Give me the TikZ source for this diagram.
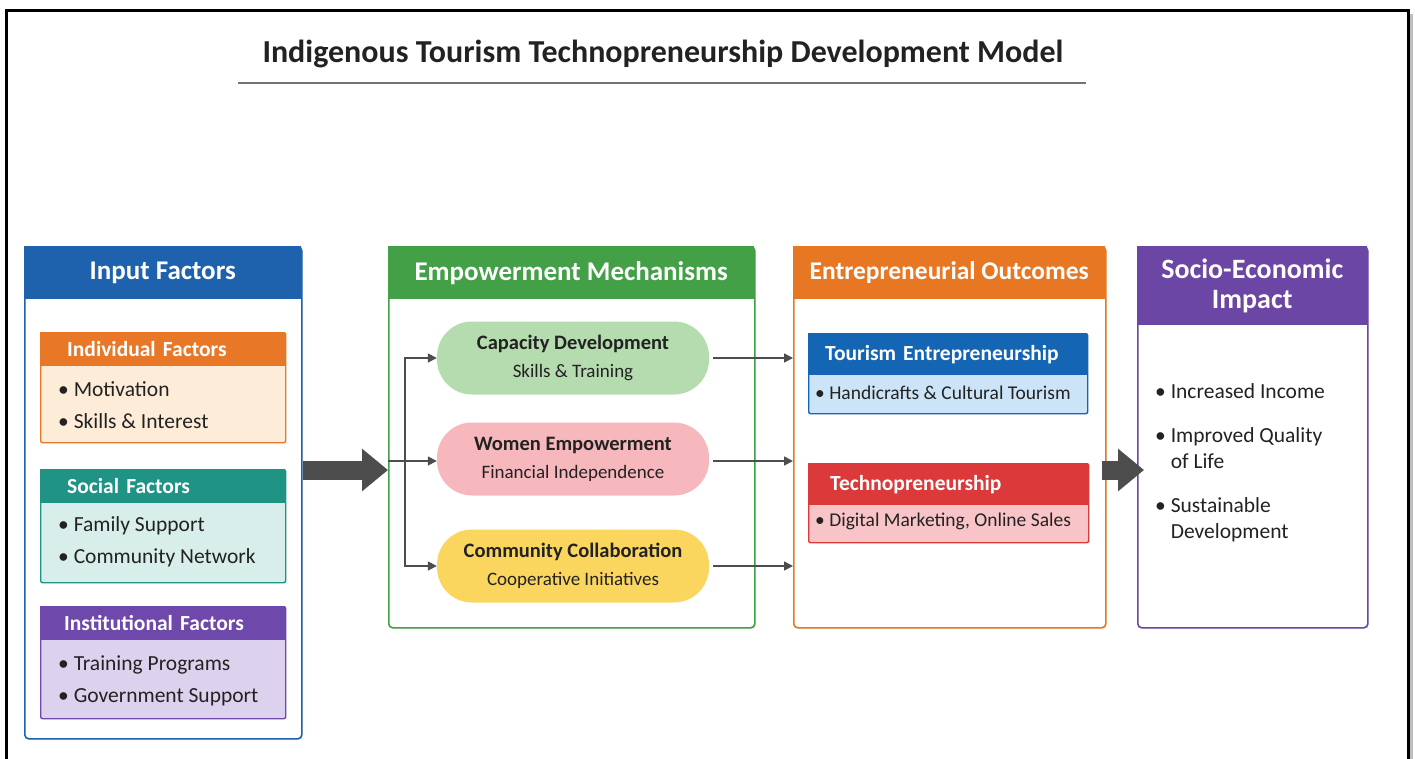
\documentclass[tikz,border=0pt]{standalone}
\usepackage{fontspec}
\setmainfont{Carlito}
\usepackage{tikz}
\usetikzlibrary{arrows.meta, positioning, calc, shadows}

\definecolor{textdark}{RGB}{34, 34, 34}
\definecolor{arrowdark}{RGB}{77, 77, 77}
\definecolor{inblue}{RGB}{30, 98, 174}
\definecolor{embgreen}{RGB}{67, 160, 71}
\definecolor{outorange}{RGB}{232, 119, 36}
\definecolor{socpurple}{RGB}{107, 70, 164}
\definecolor{indorange}{RGB}{232, 120, 40}
\definecolor{indbody}{RGB}{253, 236, 216}
\definecolor{socteal}{RGB}{31, 148, 133}
\definecolor{tealbody}{RGB}{216, 238, 234}
\definecolor{instpurple}{RGB}{110, 72, 170}
\definecolor{instbody}{RGB}{220, 210, 238}
\definecolor{pillgreen}{RGB}{181, 220, 174}
\definecolor{pillpink}{RGB}{246, 184, 188}
\definecolor{pillyellow}{RGB}{250, 214, 95}
\definecolor{tourblue}{RGB}{21, 101, 181}
\definecolor{tourbody}{RGB}{204, 228, 247}
\definecolor{techred}{RGB}{220, 58, 58}
\definecolor{techbody}{RGB}{248, 196, 199}

\tikzset{
  panel/.style={draw=#1, line width=1.6pt, fill=white, rounded corners=4pt, anchor=north west,
    inner sep=0pt, drop shadow={opacity=0.12, shadow xshift=1pt, shadow yshift=-1.5pt}},
  panelhead/.style={fill=#1, anchor=north west, inner sep=0pt, text=white, align=center,
    font=\bfseries\fontsize{27}{30}\selectfont},
  factorbox/.style={draw=#1, line width=1.4pt, rounded corners=2pt, anchor=north west, inner sep=0pt},
  factorhead/.style={fill=#1, anchor=north west, inner xsep=27pt, inner ysep=0pt, align=left,
    text=white, font=\bfseries\fontsize{21.5}{24}\selectfont},
  item/.style={anchor=west, inner sep=0pt, align=left, text=textdark, font=\fontsize{21.5}{32}\selectfont},
  pill/.style={fill=#1, rounded corners=35pt, minimum width=272pt, minimum height=73pt,
    inner sep=0pt, align=center, text=textdark, font=\fontsize{19}{28}\selectfont},
  flow/.style={draw=arrowdark, line width=1.6pt, -{Triangle[length=9pt, width=9pt]}},
  bigarrow/.style={draw=arrowdark, line width=19pt, -{Triangle[length=26pt, width=41pt]}}
}

\begin{document}
\begin{tikzpicture}[x=1pt, y=-1pt]
  \useasboundingbox (0,0) rectangle (1415,758);

  % frame
  \draw[black!25, line width=4pt] (1411,14) -- (1411,770);
  \draw[line width=3pt] (6,770) -- (6,10) -- (1408,10) -- (1408,770);

  % title
  \node[font=\bfseries\fontsize{32}{36}\selectfont, text=textdark] (title) at (663,54)
    {Indigenous Tourism Technopreneurship Development Model};
  \draw[black!55, line width=1.5pt] (238,83) -- (1086,83);

  % input factors
  \node[panel=inblue, minimum width=277pt, minimum height=492pt] (input) at (24,246) {};
  \node[panelhead=inblue, minimum width=277pt, minimum height=53pt] (inputhead) at (input.north west) {Input Factors};

  \node[factorbox=indorange, fill=indbody, minimum width=245pt, minimum height=110pt] (indiv) at (40,332) {};
  \node[factorhead=indorange, text width=191pt, minimum height=34pt] (indivhead) at (indiv.north west) {Individual Factors};
  \node[item] (indivitems) at (58,405) {• Motivation\\• Skills \& Interest};

  \node[factorbox=socteal, fill=tealbody, minimum width=245pt, minimum height=113pt] (social) at (40,469) {};
  \node[factorhead=socteal, text width=191pt, minimum height=34pt] (socialhead) at (social.north west) {Social Factors};
  \node[item] (socialitems) at (58,542) {• Family Support\\• Community Network};

  \node[factorbox=instpurple, fill=instbody, minimum width=245pt, minimum height=112pt] (inst) at (40,606) {};
  \node[factorhead=instpurple, inner xsep=24pt, text width=197pt, minimum height=34pt] (insthead) at (inst.north west) {Institutional Factors};
  \node[item] (institems) at (58,681) {• Training Programs\\• Government Support};

  % empowerment mechanisms
  \node[panel=embgreen, minimum width=366pt, minimum height=381pt] (empower) at (388,246) {};
  \node[panelhead=embgreen, minimum width=366pt, minimum height=53pt] (empowerhead) at (empower.north west) {Empowerment Mechanisms};

  \node[pill=pillgreen] (capacity) at (573,358) {{\bfseries\fontsize{20.5}{22}\selectfont Capacity Development}\\Skills \& Training};
  \node[pill=pillpink] (women) at (573,459) {{\bfseries\fontsize{20.5}{22}\selectfont Women Empowerment}\\Financial Independence};
  \node[pill=pillyellow] (community) at (573,566) {{\bfseries\fontsize{20.5}{22}\selectfont Community Collaboration}\\Cooperative Initiatives};

  % entrepreneurial outcomes
  \node[panel=outorange, minimum width=312pt, minimum height=381pt] (outcomes) at (793,246) {};
  \node[panelhead=outorange, font=\bfseries\fontsize{25.5}{30}\selectfont, minimum width=312pt, minimum height=53pt] (outcomeshead) at (outcomes.north west) {Entrepreneurial Outcomes};

  \node[factorbox=tourblue, fill=tourbody, minimum width=279pt, minimum height=80pt] (tourism) at (808,333) {};
  \node[factorhead=tourblue, inner xsep=17pt, text width=245pt, minimum height=42pt] (tourismhead) at (tourism.north west) {Tourism Entrepreneurship};
  \node[item, font=\fontsize{19.5}{22}\selectfont] (tourismitem) at (815,393) {• Handicrafts \& Cultural Tourism};

  \node[factorbox=techred, fill=techbody, minimum width=280pt, minimum height=79pt] (techno) at (808,463) {};
  \node[factorhead=techred, inner xsep=22pt, text width=236pt, minimum height=42pt] (technohead) at (techno.north west) {Technopreneurship};
  \node[item, font=\fontsize{19.5}{22}\selectfont] (technoitem) at (815,521) {• Digital Marketing, Online Sales};

  % socio-economic impact
  \node[panel=socpurple, minimum width=230pt, minimum height=381pt] (impact) at (1137,246) {};
  \node[panelhead=socpurple, font=\bfseries\fontsize{28}{30}\selectfont, minimum width=230pt, minimum height=79pt] (impacthead) at (impact.north west) {Socio-Economic\\Impact};
  \node[item, font=\fontsize{21.5}{26}\selectfont] (impactitems) at (1155,463)
    {• Increased Income\\[18pt]• Improved Quality\\\phantom{•~}of Life\\[18pt]• Sustainable\\\phantom{•~}Development};

  % connectors
  \coordinate (inflow) at (0,470);
  \coordinate (branch) at (405,461);
  \draw[bigarrow] (input.east |- inflow) -- (empower.west |- inflow);
  \draw[arrowdark, line width=1.6pt] (empower.west |- branch) -- (branch);
  \draw[flow] (branch) |- (capacity.west);
  \draw[flow] (branch) -- (women.west |- branch);
  \draw[flow] (branch) |- (community.west);

  \draw[flow, shorten <=4pt] (capacity.east) -- (capacity.east -| outcomes.west);
  \draw[flow, shorten <=4pt] (women.east |- branch) -- (outcomes.west |- branch);
  \draw[flow, shorten <=4pt] (community.east) -- (community.east -| outcomes.west);

  \draw[bigarrow, shorten <=-5pt, shorten >=-7pt] (outcomes.east |- inflow) -- (impact.west |- inflow);
\end{tikzpicture}
\end{document}
